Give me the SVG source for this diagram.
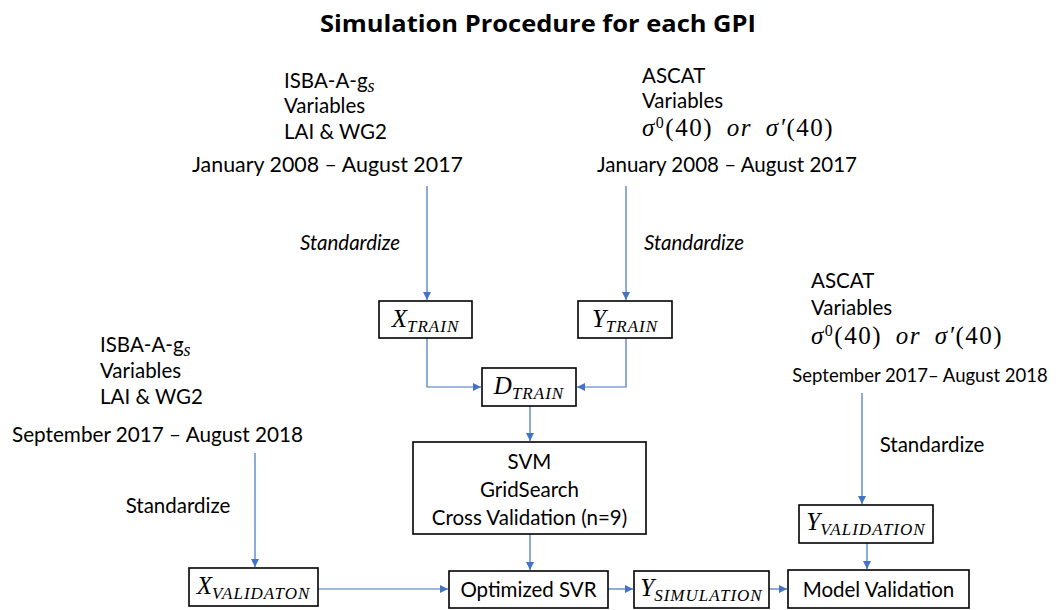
<svg xmlns="http://www.w3.org/2000/svg" width="1059" height="610" viewBox="0 0 1059 610">
<defs>
<marker id="ah" viewBox="0 0 10 10" refX="10" refY="5" markerWidth="8" markerHeight="8" markerUnits="userSpaceOnUse" orient="auto">
<path d="M0,0 L10,5 L0,10 z" fill="#4472C4"/>
</marker>
<style>
.t{font-family:Lato,"Open Sans","Liberation Sans",sans-serif;font-size:20.5px;fill:#000}
.ti{font-family:Lato,"Open Sans","Liberation Sans",sans-serif;font-size:20.5px;font-style:italic;fill:#000}
.title{font-family:"Open Sans",Lato,"Liberation Sans",sans-serif;font-size:24px;font-weight:bold;fill:#000}
.m{font-family:"Liberation Serif","DejaVu Serif",serif;font-size:25px;font-style:italic;fill:#000}
.sig{font-family:"Liberation Serif","DejaVu Serif",serif;font-size:25px;font-style:italic;fill:#000;letter-spacing:1.5px;word-spacing:6px}
.mu{font-style:normal}
.sub{font-size:17px;letter-spacing:1px}
.box{fill:#fff;stroke:#000;stroke-width:1.6}
.c{fill:none;stroke:#4472C4;stroke-width:1.2;marker-end:url(#ah)}
</style>
</defs>
<rect width="1059" height="610" fill="#fff"/>
<text class="title" x="538" y="32" text-anchor="middle" textLength="436" lengthAdjust="spacingAndGlyphs">Simulation Procedure for each GPI</text>

<g id="src-isba-train">
<text class="t" x="284" y="88">ISBA-A-g<tspan class="m" style="font-size:18px" dy="4">s</tspan></text>
<text class="t" x="284" y="113">Variables</text>
<text class="t" x="284" y="139">LAI &amp; WG2</text>
<text class="t" x="327.5" y="172" text-anchor="middle" textLength="271" lengthAdjust="spacingAndGlyphs">January 2008 – August 2017</text>
</g>

<g id="src-ascat-train">
<text class="t" x="642" y="83">ASCAT</text>
<text class="t" x="642" y="108">Variables</text>
<text class="sig" x="642" y="136">σ<tspan class="mu" style="font-size:16px" dy="-8">0</tspan><tspan class="mu" dy="8">(40) </tspan>or σ′<tspan class="mu">(40)</tspan></text>
<text class="t" x="727" y="172" text-anchor="middle" textLength="260" lengthAdjust="spacingAndGlyphs">January 2008 – August 2017</text>
</g>

<g id="src-isba-val">
<text class="t" x="100" y="352">ISBA-A-g<tspan class="m" style="font-size:18px" dy="4">s</tspan></text>
<text class="t" x="100" y="378">Variables</text>
<text class="t" x="100" y="404">LAI &amp; WG2</text>
<text class="t" x="157.5" y="442" text-anchor="middle" textLength="291" lengthAdjust="spacingAndGlyphs">September 2017 – August 2018</text>
</g>

<g id="src-ascat-val">
<text class="t" x="811" y="288">ASCAT</text>
<text class="t" x="811" y="315">Variables</text>
<text class="sig" x="811" y="344">σ<tspan class="mu" style="font-size:16px" dy="-8">0</tspan><tspan class="mu" dy="8">(40) </tspan>or σ′<tspan class="mu">(40)</tspan></text>
<text class="t" x="920" y="382" text-anchor="middle" style="font-size:18.5px">September 2017– August 2018</text>
</g>

<g id="connectors">
<path class="c" d="M427,186 V300"/>
<path class="c" d="M626,186 V300"/>
<path class="c" d="M427,338 V387 H481"/>
<path class="c" d="M626,338 V387 H577"/>
<path class="c" d="M530,406 V441"/>
<path class="c" d="M530,534 V570"/>
<path class="c" d="M255,453 V567"/>
<path class="c" d="M318,589 H448"/>
<path class="c" d="M608,589 H633"/>
<path class="c" d="M769,589 H787"/>
<path class="c" d="M862,393 V504"/>
<path class="c" d="M867,543 V569"/>
<text class="ti" x="350" y="250" text-anchor="middle">Standardize</text>
<text class="ti" x="694" y="250" text-anchor="middle">Standardize</text>
<text class="t" x="178" y="513" text-anchor="middle">Standardize</text>
<text class="t" x="932" y="452" text-anchor="middle">Standardize</text>
</g>

<g id="x-train">
<rect class="box" x="379" y="301" width="93" height="37"/>
<text class="m" x="425.5" y="327" text-anchor="middle">X<tspan class="sub" dy="5">TRAIN</tspan></text>
</g>
<g id="y-train">
<rect class="box" x="578" y="301" width="94" height="37"/>
<text class="m" x="625" y="327" text-anchor="middle">Y<tspan class="sub" dy="5">TRAIN</tspan></text>
</g>
<g id="d-train">
<rect class="box" x="482" y="368" width="94" height="38"/>
<text class="m" x="529" y="394" text-anchor="middle">D<tspan class="sub" dy="5">TRAIN</tspan></text>
</g>
<g id="svm">
<rect class="box" x="413" y="442" width="233" height="92"/>
<text class="t" x="529.5" y="469" text-anchor="middle">SVM</text>
<text class="t" x="529.5" y="497" text-anchor="middle">GridSearch</text>
<text class="t" x="529.5" y="525" text-anchor="middle">Cross Validation (n=9)</text>
</g>
<g id="x-validaton">
<rect class="box" x="189" y="568" width="129" height="38"/>
<text class="m" x="253.5" y="594" text-anchor="middle">X<tspan class="sub" dy="5">VALIDATON</tspan></text>
</g>
<g id="optimized-svr">
<rect class="box" x="449" y="571" width="159" height="37"/>
<text class="t" x="528.5" y="597" text-anchor="middle">Optimized SVR</text>
</g>
<g id="y-simulation">
<rect class="box" x="634" y="571" width="135" height="37"/>
<text class="m" x="701.5" y="596" text-anchor="middle">Y<tspan class="sub" dy="5">SIMULATION</tspan></text>
</g>
<g id="y-validation">
<rect class="box" x="799" y="505" width="134" height="38"/>
<text class="m" x="866" y="530" text-anchor="middle">Y<tspan class="sub" dy="5">VALIDATION</tspan></text>
</g>
<g id="model-validation">
<rect class="box" x="788" y="570" width="181" height="38"/>
<text class="t" x="878.5" y="597" text-anchor="middle">Model Validation</text>
</g>
</svg>
